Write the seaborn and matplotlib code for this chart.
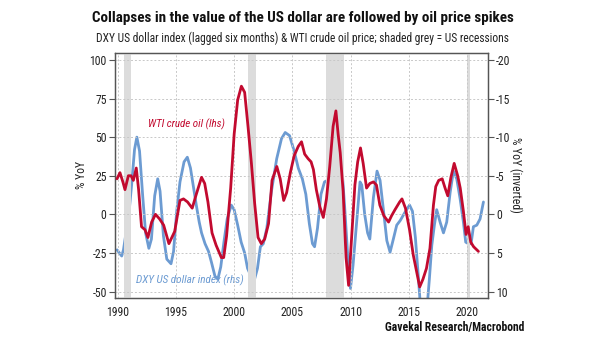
import numpy as np
import pandas as pd
import matplotlib
matplotlib.use("Agg")
import matplotlib.pyplot as plt
import seaborn as sns
from matplotlib import font_manager

# ---------------- data ----------------
wti_years = [1989.95, 1990.2, 1990.45, 1990.63, 1990.92, 1991.15, 1991.35, 1991.6, 1991.8,
             1992.05, 1992.35, 1992.6, 1992.92, 1993.25, 1993.6, 1993.95, 1994.4, 1994.65,
             1994.9, 1995.1, 1995.35, 1995.65, 1996.0, 1996.4, 1996.75, 1997.2, 1997.47,
             1997.75, 1998.1, 1998.45, 1998.9, 1999.1, 1999.35, 1999.7, 2000.0, 2000.3,
             2000.62, 2000.9, 2001.2, 2001.48, 2001.76, 2002.05, 2002.33, 2002.62, 2002.95,
             2003.25, 2003.66, 2003.95, 2004.25, 2004.5, 2004.82, 2005.15, 2005.5, 2005.78,
             2006.05, 2006.35, 2006.6, 2006.8, 2007.05, 2007.35, 2007.65, 2007.92, 2008.2,
             2008.49, 2008.73, 2008.92, 2009.1, 2009.35, 2009.6, 2009.82, 2010.07, 2010.36,
             2010.6, 2010.84, 2011.07, 2011.36, 2011.64, 2011.95, 2012.21, 2012.5, 2012.85,
             2013.25, 2013.5, 2013.8, 2014.2, 2014.4, 2014.7, 2015.05, 2015.36, 2015.6,
             2015.92, 2016.2, 2016.5, 2016.8, 2017.1, 2017.3, 2017.55, 2017.85, 2018.1,
             2018.33, 2018.6, 2018.88, 2019.18, 2019.4, 2019.67, 2019.9, 2020.08, 2020.3,
             2020.55, 2020.96]
wti_yoy = [23, 27, 21, 16, 25, 25, 22, 30, 16,
           -8, -10, -15, -5, 0, -3, -7, -19, -15,
           -11, -2, 9, 10, 8, 4, 13, 24, 20,
           8, -12, -20, -28, -28, -14, 17, 52, 74,
           83, 79, 56, 33, 7, -15, -19, -16, -6,
           22, 31, 23, 9, 14, 27, 38, 44, 47,
           39, 36, 34, 29, 16, 5, -2, 10, 31,
           57, 67, 52, 40, 15, -28, -46, -16, 19,
           34, 43, 33, 17, 20, 21, 19, 6, -1,
           -5, -1, 3, 8, 10, 4, -10, -26, -35,
           -47, -42, -35, -22, 6, 18, 22, 23, 17,
           12, 24, 33, 25, 17, 2, -13, -8, -18,
           -21, -24]

dxy_years = [1989.95, 1990.2, 1990.35, 1990.5, 1990.78, 1990.95, 1991.2, 1991.45, 1991.65,
             1991.88, 1992.15, 1992.4, 1992.68, 1992.9, 1993.18, 1993.44, 1993.64, 1993.93,
             1994.22, 1994.58, 1994.8, 1995.07, 1995.35, 1995.7, 1995.98, 1996.25, 1996.5,
             1996.75, 1997.0, 1997.2, 1997.5, 1997.8, 1998.05, 1998.35, 1998.6, 1998.85,
             1999.12, 1999.4, 1999.75, 2000.0, 2000.3, 2000.6, 2000.9, 2001.15, 2001.5,
             2001.75, 2002.0, 2002.25, 2002.5, 2002.8, 2003.2, 2003.65, 2004.06, 2004.38,
             2004.75, 2005.15, 2005.5, 2005.85, 2006.15, 2006.45, 2006.72, 2006.9, 2007.15,
             2007.45, 2007.75, 2008.0, 2008.3, 2008.65, 2009.02, 2009.2, 2009.48, 2009.78,
             2009.98, 2010.2, 2010.5, 2010.8, 2010.95, 2011.2, 2011.45, 2011.64, 2011.95,
             2012.26, 2012.52, 2012.82, 2013.1, 2013.38, 2013.66, 2013.95, 2014.25, 2014.63,
             2015.05, 2015.3, 2015.55, 2015.8, 2015.97, 2016.2, 2016.4, 2016.6, 2016.75,
             2016.96, 2017.18, 2017.38, 2017.67, 2017.96, 2018.24, 2018.53, 2018.81, 2019.1,
             2019.39, 2019.67, 2019.87, 2020.1, 2020.33, 2020.53, 2020.82, 2021.1, 2021.39]
dxy_yoy = [4.6, 5.1, 5.4, 4.6, 1.8, 0.2, -3.8, -8.4, -10.0,
           -8.2, -2.4, 2.4, 4.4, 3.2, -2.4, -4.6, -3.0, 2.8,
           5.8, 6.4, 4.8, -0.4, -4.2, -6.8, -7.4, -6.0, -3.6,
           -1.2, 1.0, 2.4, 3.8, 4.8, 6.2, 8.0, 8.4, 6.8,
           3.6, 0.6, -1.2, -0.6, 1.4, 3.6, 5.0, 7.0, 8.2,
           8.4, 7.0, 4.2, 3.8, 1.8, -3.0, -7.2, -9.8, -10.6,
           -10.2, -8.2, -6.0, -4.6, -2.6, 1.2, 3.8, 4.2, 1.8,
           -2.6, -4.2, -4.4, -5.0, -6.4, -8.2, -7.0, -1.0, 6.2,
           9.6, 6.6, 1.2, -4.2, -3.8, 0.0, 2.4, 3.2, -2.2,
           -5.6, -4.4, -0.4, 3.4, 4.9, 3.2, 1.4, 0.8, -0.2,
           -1.2, -0.4, 3.0, 8.0, 11.6, 12.8, 12.8, 11.2, 8.4,
           4.0, 1.4, -0.6, 1.0, 2.4, 1.0, -2.8, -5.6, -4.6,
           -2.0, 1.0, 3.6, 3.8, 3.8, 1.6, 1.4, 0.6, -1.6]

recession_start = [1990.54, 2001.2, 2007.92, 2019.98]
recession_end = [1991.17, 2001.87, 2009.42, 2020.28]

left_ticks = [-50, -25, 0, 25, 50, 75, 100]
right_ticks = [-20, -15, -10, -5, 0, 5, 10]
year_ticks = [1990, 1995, 2000, 2005, 2010, 2015, 2020]

title = "Collapses in the value of the US dollar are followed by oil price spikes"
subtitle = "DXY US dollar index (lagged six months) & WTI crude oil price; shaded grey = US recessions"
source = "Gavekal Research/Macrobond"
wti_label = "WTI crude oil (lhs)"
dxy_label = "DXY US dollar index (rhs)"

# ---------------- style ----------------
sns.set_theme(style="white")
names = {f.name for f in font_manager.fontManager.ttflist}
main_font = "Roboto"
for cand in ["Liberation Sans Narrow", "Roboto Condensed", "Open Sans Condensed", "Roboto"]:
    if cand in names:
        main_font = cand
        break
plt.rcParams["font.family"] = [main_font, "DejaVu Sans"]

RED = "#C20A2F"
BLUE = "#6C9BD2"
AX_COL = "#555555"

wti = pd.DataFrame({"year": wti_years, "yoy": wti_yoy})
dxy = pd.DataFrame({"year": dxy_years, "yoy": dxy_yoy})

fig = plt.figure(figsize=(6.05, 3.41), dpi=100)
ax = fig.add_axes([0.190, 0.126, 0.616, 0.720])
ax2 = ax.twinx()

for s, e in zip(recession_start, recession_end):
    ax.axvspan(s, e, color="#DCDCDC", lw=0, zorder=0)

sns.lineplot(data=wti, x="year", y="yoy", ax=ax, color=RED, lw=2.0, zorder=3)
sns.lineplot(data=dxy, x="year", y="yoy", ax=ax2, color=BLUE, lw=2.0, zorder=2)
for ln in ax.get_lines() + ax2.get_lines():
    ln.set_solid_joinstyle("round")
    ln.set_solid_capstyle("round")

ax.set_xlim(1989.77, 2021.75)
ax.set_ylim(-54.2, 104.8)
ax2.set_ylim(10.84, -20.96)

ax.set_xticks(year_ticks)
ax.set_yticks(left_ticks)
ax2.set_yticks(right_ticks)
ax.set_xticklabels([str(y) for y in year_ticks])
ax.set_yticklabels([str(v) for v in left_ticks])
ax2.set_yticklabels([str(v) for v in right_ticks])

ax.grid(True, color="#C8C8C8", ls=(0, (2, 2)), lw=0.7)
ax2.grid(False)
ax.set_axisbelow(True)

ax.set_xlabel("")
ax.set_ylabel("% YoY", fontsize=8.5, color="#222222", labelpad=1)
ax2.set_ylabel("% YoY (inverted)", fontsize=8.5, color="#222222", rotation=270, labelpad=9)

for a in (ax, ax2):
    for sp in a.spines.values():
        sp.set_color(AX_COL)
        sp.set_linewidth(0.9)
    a.tick_params(axis="both", which="both", length=4, width=0.8, color=AX_COL,
                  labelsize=8.5, labelcolor="#222222", direction="out", pad=2)

# put the red line above the blue one
ax.set_zorder(ax2.get_zorder() + 1)
ax.patch.set_visible(False)

t_wti = ax.text(1995.9, 58.5, wti_label, color=RED, fontsize=9, style="italic",
                ha="center", va="center")
t_dxy = ax2.text(1996.2, 8.5, dxy_label, color=BLUE, fontsize=9, style="italic",
                 ha="center", va="center")

t_title = fig.text(0.5, 0.948, title, ha="center", va="center", fontsize=12.5,
                   fontweight="bold", color="#111111")
t_sub = fig.text(0.5, 0.888, subtitle, ha="center", va="center", fontsize=9.5, color="#222222")
t_src = fig.text(0.866, 0.040, source, ha="right", va="center", fontsize=9,
                 fontweight="bold", color="#111111")

# scale font sizes so text widths match the reference widths (pixels)
targets = [(t_title, 424), (t_sub, 414), (t_src, 138), (t_wti, 77), (t_dxy, 108)]
for _ in range(2):
    fig.canvas.draw()
    r = fig.canvas.get_renderer()
    for t, px in targets:
        w = t.get_window_extent(renderer=r).width
        t.set_fontsize(t.get_fontsize() * px / w)

fig.savefig("out.png", dpi=100)
